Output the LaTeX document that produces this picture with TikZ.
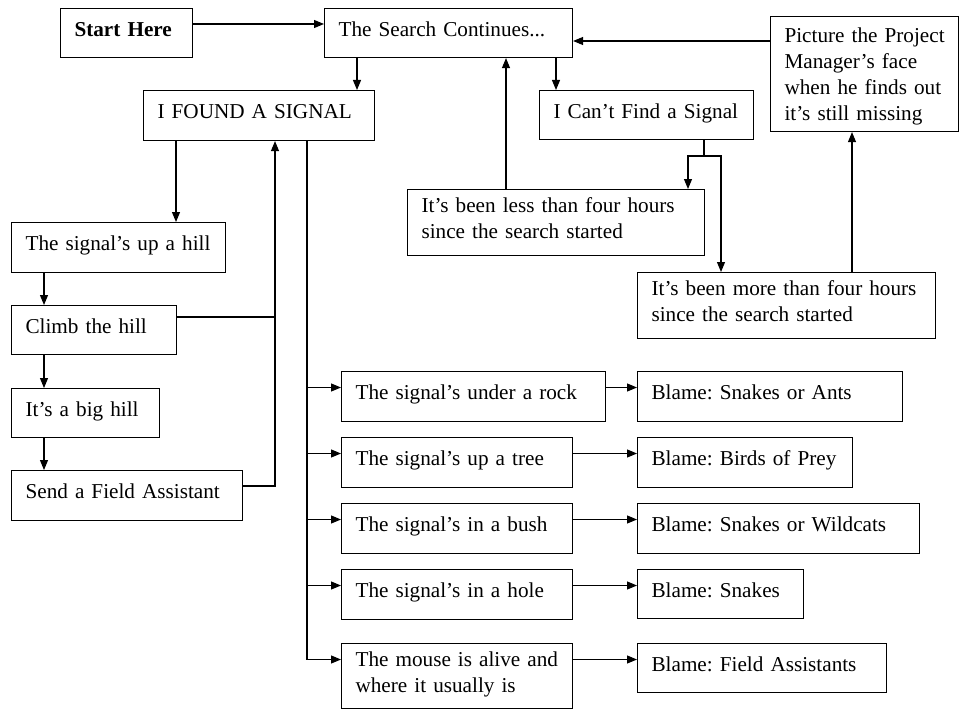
\documentclass[tikz,border=0pt]{standalone}
\usepackage{fontspec}
\setmainfont{Liberation Serif}
\usetikzlibrary{arrows.meta,calc}
\newcommand{\mystrut}{\rule[-10pt]{0pt}{26pt}}
\newcommand{\mytallstrut}{\rule[-10pt]{0pt}{35pt}}
\frenchspacing
\begin{document}
\begin{tikzpicture}[x=1pt,y=-1pt,
  box/.style={draw, line width=1.1pt, rectangle, anchor=north west,
    inner xsep=14pt, inner ysep=0pt, align=left,
    font=\fontsize{21.2}{26}\selectfont\frenchspacing,
    execute at begin node=\mystrut, execute at end node=\mystrut},
  tallbox/.style={box, execute at begin node=\mytallstrut},
  arr/.style={line width=1.1pt, -{Triangle[length=10pt,width=8pt]}},
  ln/.style={line width=1.1pt}]
\useasboundingbox (0,0) rectangle (962,709);

% boxes
\node[box, text width=104pt, minimum height=49pt] (start)  at (60,8)   {\mbox{\textbf{Start Here}}};
\node[box, text width=220pt, minimum height=49pt] (search) at (324,8)  {\mbox{The Search Continues...}};
\node[box, text width=203pt, minimum height=50pt] (found)  at (143,90) {\mbox{I FOUND A SIGNAL}};
\node[box, text width=186pt, minimum height=49pt] (cant)   at (539,90) {\mbox{I Can’t Find a Signal}};
\node[tallbox, text width=160pt, minimum height=115pt] (pic) at (770,16) {\mbox{Picture the Project}\\\mbox{Manager’s face}\\\mbox{when he finds out}\\\mbox{it’s still missing}};
\node[box, text width=269pt, minimum height=66pt] (less)   at (407,189) {\mbox{It’s been less than four hours}\\\mbox{since the search started}};
\node[box, text width=270pt, minimum height=66pt] (more)   at (637,272) {\mbox{It’s been more than four hours}\\\mbox{since the search started}};

\node[box, text width=186pt, minimum height=50pt] (hill)   at (11,222) {\mbox{The signal’s up a hill}};
\node[box, text width=137pt, minimum height=49pt] (climb)  at (11,305) {\mbox{Climb the hill}};
\node[box, text width=120pt, minimum height=49pt] (big)    at (11,388) {\mbox{It’s a big hill}};
\node[box, text width=203pt, minimum height=50pt] (send)   at (11,470) {\mbox{Send a Field Assistant}};

\node[box, text width=236pt, minimum height=50pt] (rock)   at (341,371) {\mbox{The signal’s under a rock}};
\node[box, text width=203pt, minimum height=50pt] (tree)   at (341,437) {\mbox{The signal’s up a tree}};
\node[box, text width=203pt, minimum height=50pt] (bush)   at (341,503) {\mbox{The signal’s in a bush}};
\node[box, text width=203pt, minimum height=50pt] (hole)   at (341,569) {\mbox{The signal’s in a hole}};
\node[box, text width=203pt, minimum height=65pt] (mouse)  at (341,643) {\mbox{The mouse is alive and}\\\mbox{where it usually is}};

\node[box, text width=237pt, minimum height=50pt] (b1) at (637,371) {\mbox{Blame: Snakes or Ants}};
\node[box, text width=187pt, minimum height=50pt] (b2) at (637,437) {\mbox{Blame: Birds of Prey}};
\node[box, text width=254pt, minimum height=50pt] (b3) at (637,503) {\mbox{Blame: Snakes or Wildcats}};
\node[box, text width=138pt, minimum height=49pt] (b4) at (637,569) {\mbox{Blame: Snakes}};
\node[box, text width=221pt, minimum height=49pt] (b5) at (637,643) {\mbox{Blame: Field Assistants}};

% lanes
\coordinate (ya) at (0,24);
\coordinate (yb) at (0,41);
\coordinate (xb) at (357,0);
\coordinate (xc) at (556,0);
\coordinate (xe) at (506,0);
\coordinate (xf) at (852,0);
\coordinate (xg) at (704,0);
\coordinate (yg) at (0,156);
\coordinate (xl) at (688,0);
\coordinate (xm) at (721,0);
\coordinate (xh) at (176,0);
\coordinate (xi) at (44,0);
\coordinate (xj) at (275,0);
\coordinate (yj1) at (0,317);
\coordinate (yj2) at (0,486);
\coordinate (xk) at (307,0);

% top connectors
\draw[arr] (start.east |- ya) -- (search.west |- ya);
\draw[arr] (search.south -| xb) -- (found.north -| xb);
\draw[arr] (search.south -| xc) -- (cant.north -| xc);
\draw[arr] (pic.west |- yb) -- (search.east |- yb);
\draw[arr] (less.north -| xe) -- (search.south -| xe);
\draw[arr] (more.north -| xf) -- (pic.south -| xf);
\draw[ln] (cant.south -| xg) -- (xg |- yg);
\draw[arr] (xg |- yg) -| (less.north -| xl);
\draw[arr] (xg |- yg) -| (more.north -| xm);

% hill chain
\draw[arr] (found.south -| xh) -- (hill.north -| xh);
\draw[arr] (hill.south -| xi) -- (climb.north -| xi);
\draw[arr] (climb.south -| xi) -- (big.north -| xi);
\draw[arr] (big.south -| xi) -- (send.north -| xi);
\draw[ln] (climb.east |- yj1) -- (xj |- yj1);
\draw[arr] (send.east |- yj2) -| (found.south -| xj);

% branches
\coordinate (r1) at ($(rock.north west)+(0,16.5)$);
\coordinate (r2) at ($(tree.north west)+(0,16.5)$);
\coordinate (r3) at ($(bush.north west)+(0,16.5)$);
\coordinate (r4) at ($(hole.north west)+(0,16.5)$);
\coordinate (r5) at ($(mouse.north west)+(0,16.5)$);
\draw[ln] (found.south -| xk) -- (xk |- r5);
\draw[arr] (xk |- r1) -- (rock.west |- r1);
\draw[arr] (xk |- r2) -- (tree.west |- r2);
\draw[arr] (xk |- r3) -- (bush.west |- r3);
\draw[arr] (xk |- r4) -- (hole.west |- r4);
\draw[arr] (xk |- r5) -- (mouse.west |- r5);
\draw[arr] (rock.east |- r1) -- (b1.west |- r1);
\draw[arr] (tree.east |- r2) -- (b2.west |- r2);
\draw[arr] (bush.east |- r3) -- (b3.west |- r3);
\draw[arr] (hole.east |- r4) -- (b4.west |- r4);
\draw[arr] (mouse.east |- r5) -- (b5.west |- r5);
\end{tikzpicture}
\end{document}
